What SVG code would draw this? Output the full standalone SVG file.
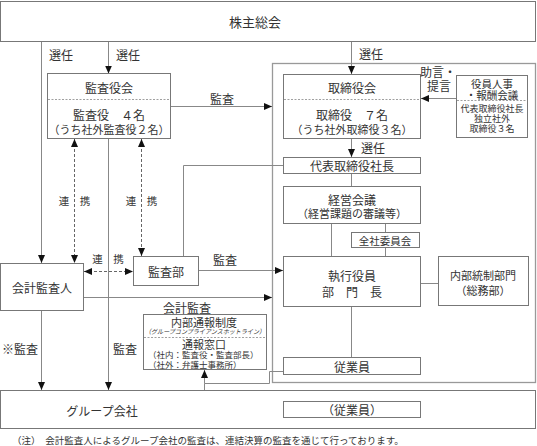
<svg xmlns="http://www.w3.org/2000/svg" width="537" height="446" viewBox="0 0 537 446">
<defs>
<marker id="ah" viewBox="0 0 8 8" refX="8" refY="4" markerWidth="8" markerHeight="8" markerUnits="userSpaceOnUse" orient="auto-start-reverse"><path d="M0,0.5 L8,4 L0,7.5 Z" fill="#111"/></marker>
<style>
.box{fill:#fff;stroke:#777;stroke-width:1}
.frame{fill:none;stroke:#999;stroke-width:1.3}
.ln{fill:none;stroke:#888;stroke-width:1}
.arr{marker-end:url(#ah)}
.dbl{fill:none;stroke:#666;stroke-width:1;stroke-dasharray:3 2;marker-start:url(#ah);marker-end:url(#ah)}
.dv{fill:none;stroke:#888;stroke-width:0.8;stroke-dasharray:2 1.5}
text{font-family:"Noto Sans CJK JP","Noto Sans",sans-serif;fill:#333;font-size:12px;text-anchor:middle;dominant-baseline:central}
.s11{font-size:11px}
.s9{font-size:9px}
.lt{text-anchor:start}
</style>
</defs>
<g id="frame"><rect class="frame" x="272.5" y="63.5" width="263" height="319"/></g>
<g id="connectors">
<path class="ln arr" d="M41.5,41 V263"/>
<path class="ln arr" d="M108.5,41 V73.5"/>
<path class="ln arr" d="M108.5,138 V390"/>
<path class="ln arr" d="M41.5,311 V390"/>
<path class="ln arr" d="M170,106.5 H272"/>
<path class="ln arr" d="M351.5,41 V74"/>
<path class="ln arr" d="M456,98.5 H421"/>
<path class="ln arr" d="M351.5,138 V157"/>
<path class="ln" d="M183.5,256 V165.5 H283"/>
<path class="ln" d="M351.5,173 V186"/>
<path class="ln" d="M331.5,223 V256"/>
<path class="ln" d="M385.5,223 V232"/>
<path class="ln" d="M385.5,247 V256"/>
<path class="ln arr" d="M198,270.5 H283"/>
<path class="ln arr" d="M83,297.5 H272"/>
<path class="ln" d="M420,283.5 H438"/>
<path class="ln" d="M351.5,306 V357"/>
<path class="ln arr" d="M283,371.5 H269.5 V383.5 H204.5 V370"/>
<path class="ln" d="M283,409.5 H204.5 V383.5"/>
<path class="dbl" d="M74.5,139 V263"/>
<path class="dbl" d="M141.5,139 V256"/>
<path class="dbl" d="M84,271.5 H133"/>
</g>
<g id="shareholders"><rect class="box" x="0.5" y="1.5" width="535" height="40"/><text x="255" y="21" style="font-size:13px">株主総会</text></g>
<g id="group"><rect class="box" x="0.5" y="390.5" width="535" height="38"/><text x="102" y="410">グループ会社</text></g>
<g id="kansayakukai"><rect class="box" x="47.5" y="73.5" width="123" height="65"/><line class="dv" x1="48" y1="99.5" x2="170" y2="99.5"/>
<text x="109" y="87">監査役会</text><text x="109" y="114">監査役　４名</text><text x="109" y="129" class="s11">（うち社外監査役２名）</text></g>
<g id="torishimariyakukai"><rect class="box" x="283.5" y="74.5" width="137" height="64"/><line class="dv" x1="284" y1="99.5" x2="420" y2="99.5"/>
<text x="352" y="87">取締役会</text><text x="352" y="114">取締役　７名</text><text x="352" y="129" class="s11">（うち社外取締役３名）</text></g>
<g id="yakuinjinji"><rect class="box" x="456.5" y="75.5" width="71" height="62"/><line class="dv" x1="457" y1="100.5" x2="527" y2="100.5"/>
<text x="492" y="83.5" style="font-size:10.5px">役員人事</text><text x="492" y="94.5" style="font-size:10.5px">・報酬会議</text>
<text x="492" y="108" class="s9">代表取締役社長</text><text x="492" y="118" class="s9">独立社外</text><text x="492" y="128" class="s9">取締役３名</text></g>
<g id="president"><rect class="box" x="283.5" y="157.5" width="137" height="16"/><text x="352" y="165.5">代表取締役社長</text></g>
<g id="keieikaigi"><rect class="box" x="283.5" y="186.5" width="137" height="37"/><text x="352" y="199">経営会議</text><text x="352" y="213" class="s11">（経営課題の審議等）</text></g>
<g id="zenshaiinkai"><rect class="box" x="351.5" y="232.5" width="68" height="15"/><text x="385" y="240" style="font-size:10.5px">全社委員会</text></g>
<g id="shikkou"><rect class="box" x="283.5" y="256.5" width="137" height="50"/><text x="352" y="275">執行役員</text><text x="352" y="291">部　門　長</text></g>
<g id="naibutousei"><rect class="box" x="438.5" y="256.5" width="90" height="49"/><text x="483" y="275" class="s11">内部統制部門</text><text x="483" y="290" class="s11">（総務部）</text></g>
<g id="jugyouin"><rect class="box" x="283.5" y="357.5" width="137" height="17"/><text x="352" y="366">従業員</text></g>
<g id="jugyouin-group"><rect class="box" x="283.5" y="401.5" width="137" height="16"/><text x="352" y="409.5">（従業員）</text></g>
<g id="kaikeikansanin"><rect class="box" x="0.5" y="263.5" width="83" height="47"/><text x="42" y="287">会計監査人</text></g>
<g id="kansabu"><rect class="box" x="133.5" y="256.5" width="65" height="29"/><text x="166" y="271">監査部</text></g>
<g id="naibutsuhou"><rect class="box" x="143.5" y="314.5" width="123" height="55"/><line class="dv" x1="144" y1="337.5" x2="266" y2="337.5"/>
<text x="204" y="322" class="s11">内部通報制度</text>
<text x="205" y="331.5" style="font-size:6.3px;font-style:italic" textLength="120" lengthAdjust="spacingAndGlyphs">（グループコンプライアンスホットライン）</text>
<text x="204" y="344" class="s11">通報窓口</text>
<text x="148" y="354" class="lt" style="font-size:8.5px">（社内：監査役・監査部長）</text>
<text x="148" y="363.5" class="lt" style="font-size:8.5px">（社外：弁護士事務所）</text></g>
<g id="labels">
<text x="61" y="54">選任</text><text x="128" y="54">選任</text><text x="371" y="53">選任</text><text x="373" y="147">選任</text>
<text x="222" y="98">監査</text>
<text x="438" y="71">助言・</text><text x="439" y="85">提言</text>
<text x="74.5" y="200" style="font-size:10.5px">連　携</text>
<text x="141.5" y="200" style="font-size:10.5px">連　携</text>
<text x="108" y="258" style="font-size:10.5px">連　携</text>
<text x="225" y="259">監査</text>
<text x="187" y="307">会計監査</text>
<text x="20" y="348">※監査</text>
<text x="125" y="348">監査</text>
<text x="12" y="440" class="lt" style="font-size:9.5px">（注）　会計監査人によるグループ会社の監査は、連結決算の監査を通じて行っております。</text>
</g>
</svg>
